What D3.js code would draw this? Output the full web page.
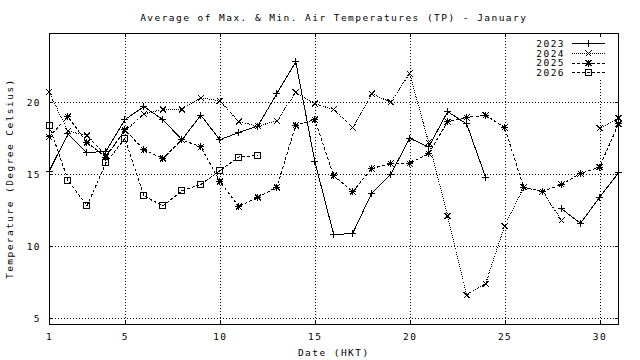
<!DOCTYPE html>
<html><head><meta charset="utf-8">
<script src="https://cdn.jsdelivr.net/npm/d3@7"></script>
<style>
body{margin:0;background:#fff;}
text{font-family:"DejaVu Sans Mono",monospace;font-size:9.5px;letter-spacing:1.45px;fill:#000;}
</style></head>
<body>
<svg id="chart" width="640" height="360"></svg>
<script>
const days = d3.range(1, 32);
const seriesNames = ["2023", "2024", "2025", "2026"];
const t2023 = [15.2, 17.8, 16.5, 16.6, 18.8, 19.7, 18.8, 17.4, 19.1, 17.4, 17.9, 18.35, 20.6, 22.8, 15.9, 10.8, 10.9, 13.7, 15.0, 17.5, 16.9, 19.35, 18.5, 14.8, null, null, null, 12.6, 11.6, 13.4, 15.1];
const t2024 = [20.7, 18.0, 17.7, 16.3, 18.0, 19.2, 19.5, 19.5, 20.3, 20.1, 18.65, 18.35, 18.7, 20.7, 19.9, 19.5, 18.25, 20.6, 20.0, 22.0, 17.2, 12.1, 6.6, 7.4, 11.4, 14.1, 13.8, 11.8, null, 18.2, 18.9];
const t2025 = [17.6, 19.0, 17.2, 16.2, 18.1, 16.7, 16.1, 17.4, 16.9, 14.5, 12.75, 13.4, 14.1, 18.4, 18.8, 14.9, 13.8, 15.4, 15.75, 15.75, 16.45, 18.65, 18.95, 19.1, 18.25, 14.1, 13.8, 14.3, 15.05, 15.5, 18.5];
const t2026 = [18.4, 14.6, 12.8, 15.8, 17.5, 13.5, 12.8, 13.85, 14.3, 15.25, 16.2, 16.3];
const xTicks = [1, 5, 10, 15, 20, 25, 30];
const yTicks = [5, 10, 15, 20];
const titleText = "Average of Max. & Min. Air Temperatures (TP) - January";
const xTitle = "Date (HKT)";
const yTitle = "Temperature (Degree Celsius)";

const L = 49, R = 618.5, T = 33.3, B = 324;
const x = d3.scaleLinear().domain([1, 31]).range([L, R]);
const y = d3.scaleLinear().domain([5, 20]).range([318.3, 102.3]);
const svg = d3.select("#chart");

// grid
const grid = svg.append("g").attr("shape-rendering", "crispEdges");
grid.append("g").attr("transform", `translate(0,${B})`)
  .call(d3.axisBottom(x).tickValues(xTicks.filter(d => d > 1)).tickSize(-(B - T)).tickFormat(""))
  .call(g => { g.select(".domain").remove(); g.selectAll("line").attr("stroke", "#000").attr("stroke-dasharray", "1,2"); });
grid.append("g").attr("transform", `translate(${L},0)`)
  .call(d3.axisLeft(y).tickValues(yTicks).tickSize(-(R - L)).tickFormat(""))
  .call(g => { g.select(".domain").remove(); g.selectAll("line").attr("stroke", "#000").attr("stroke-dasharray", "1,2"); });

// legend background (key clears grid)
const legX = 535, legY = 37;
svg.append("rect").attr("x", legX).attr("y", legY).attr("width", 78).attr("height", 42).attr("fill", "#fff");

// axes with inward ticks
const ax = svg.append("g").attr("shape-rendering", "crispEdges");
ax.append("g").attr("transform", `translate(0,${B})`)
  .call(d3.axisBottom(x).tickValues(xTicks).tickSize(-4).tickPadding(9.5).tickFormat(d3.format("d")))
  .call(g => g.select(".domain").remove());
ax.append("g").attr("transform", `translate(0,${T})`)
  .call(d3.axisTop(x).tickValues(xTicks).tickSize(-4).tickFormat(""))
  .call(g => g.select(".domain").remove());
ax.append("g").attr("transform", `translate(${L},0)`)
  .call(d3.axisLeft(y).tickValues(yTicks).tickSize(-4).tickPadding(8).tickFormat(d3.format("d")))
  .call(g => g.select(".domain").remove());
ax.append("g").attr("transform", `translate(${R},0)`)
  .call(d3.axisRight(y).tickValues(yTicks).tickSize(-4).tickFormat(""))
  .call(g => g.select(".domain").remove());
ax.selectAll("line").attr("stroke", "#000");
ax.selectAll("text").attr("font-family", null).attr("font-size", null).attr("fill", "#000");
svg.append("rect").attr("x", L).attr("y", T).attr("width", R - L).attr("height", B - T)
  .attr("fill", "none").attr("stroke", "#000").attr("shape-rendering", "crispEdges");

// series
const series = [
  { name: seriesNames[0], vals: t2023, dash: null, mark: "plus" },
  { name: seriesNames[1], vals: t2024, dash: "1,1", mark: "cross" },
  { name: seriesNames[2], vals: t2025, dash: "3,2", mark: "star" },
  { name: seriesNames[3], vals: t2026, dash: "3,2", mark: "box" }
];
const line = d3.line().defined(d => d.v != null).x(d => x(d.day)).y(d => y(d.v));

function drawMark(g, mark, cx, cy) {
  const s = 3.5;
  if (mark === "plus" || mark === "star") {
    g.append("line").attr("x1", cx - s).attr("x2", cx + s).attr("y1", cy).attr("y2", cy);
    g.append("line").attr("x1", cx).attr("x2", cx).attr("y1", cy - s).attr("y2", cy + s);
  }
  if (mark === "cross" || mark === "star") {
    const c = 3;
    g.append("line").attr("x1", cx - c).attr("x2", cx + c).attr("y1", cy - c).attr("y2", cy + c);
    g.append("line").attr("x1", cx - c).attr("x2", cx + c).attr("y1", cy + c).attr("y2", cy - c);
  }
  if (mark === "star") {
    g.append("rect").attr("x", cx - 1.5).attr("y", cy - 1.5).attr("width", 3).attr("height", 3).attr("fill", "#000").attr("stroke", "none");
  }
  if (mark === "box") {
    g.append("rect").attr("x", cx - 3).attr("y", cy - 3).attr("width", 6).attr("height", 6).attr("fill", "none");
    g.append("rect").attr("x", cx - 0.5).attr("y", cy - 0.5).attr("width", 1).attr("height", 1).attr("fill", "#000").attr("stroke", "none");
  }
}

series.forEach(s => {
  const pts = s.vals.map((v, i) => ({ day: days[i], v: v }));
  svg.append("path").datum(pts).attr("d", line)
    .attr("fill", "none").attr("stroke", "#000").attr("stroke-width", 1)
    .attr("stroke-dasharray", s.dash).attr("shape-rendering", "crispEdges");
  const mg = svg.append("g").attr("stroke", "#000").attr("stroke-width", 1).attr("shape-rendering", "crispEdges");
  pts.filter(d => d.v != null).forEach(d => drawMark(mg, s.mark, x(d.day), y(d.v)));
});

// legend
series.forEach((s, i) => {
  const ly = 43.5 + i * 9.8;
  svg.append("text").attr("x", 565).attr("y", ly).attr("dy", "0.35em").attr("text-anchor", "end").text(s.name);
  svg.append("line").attr("x1", 572).attr("x2", 605).attr("y1", ly).attr("y2", ly)
    .attr("stroke", "#000").attr("stroke-dasharray", s.dash).attr("shape-rendering", "crispEdges");
  const mg = svg.append("g").attr("stroke", "#000").attr("stroke-width", 1).attr("shape-rendering", "crispEdges");
  drawMark(mg, s.mark, 588.5, ly);
});

// titles
svg.append("text").attr("x", (L + R) / 2).attr("y", 20.5).attr("text-anchor", "middle").text(titleText);
svg.append("text").attr("x", (L + R) / 2).attr("y", 355.5).attr("text-anchor", "middle").text(xTitle);
svg.append("text").attr("transform", `translate(12.5,${(T + B) / 2}) rotate(-90)`).attr("text-anchor", "middle").text(yTitle);
</script>
</body></html>
